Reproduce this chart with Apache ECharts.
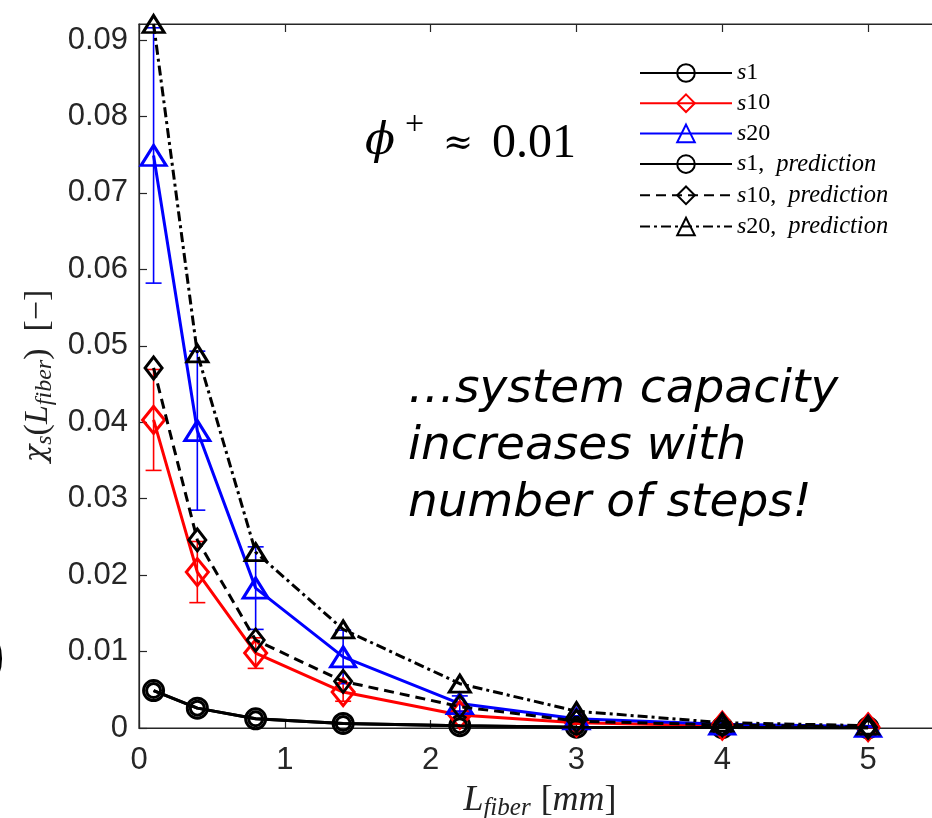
<!DOCTYPE html>
<html>
<head>
<meta charset="utf-8">
<script src="https://cdn.jsdelivr.net/npm/echarts@6/dist/echarts.min.js"></script>
<style>html,body{margin:0;padding:0;background:#fff;}#c{width:932px;height:818px;}</style>
</head>
<body>
<div id="c"></div>
<script>
// ---- data ----
var xs = [0.1, 0.4, 0.8, 1.4, 2.2, 3, 4, 5];
var s1 = [0.0049, 0.0026, 0.0012, 0.0006, 0.0003, 0.0001, 0.00005, 0.00002];
var s10 = [0.0403, 0.0204, 0.0098, 0.0047, 0.0017, 0.0007, 0.0003, 0.0001];
var s20 = [0.0749, 0.0389, 0.0183, 0.0093, 0.0032, 0.0012, 0.0005, 0.0002];
var s1Pred = [0.0049, 0.0026, 0.0012, 0.0006, 0.0003, 0.0001, 0.00005, 0.00002];
var s10Pred = [0.0471, 0.0246, 0.0115, 0.0061, 0.0028, 0.0009, 0.0004, 0.0001];
var s20Pred = [0.0921, 0.0490, 0.0230, 0.0129, 0.0058, 0.0022, 0.0007, 0.0003];
var s10Lo = [0.0337, 0.0164, 0.0078, 0.0035, 0.0012, 0.0005, 0.0002, 0.00005];
var s10Hi = [0.0469, 0.0244, 0.0118, 0.0059, 0.0022, 0.0009, 0.0004, 0.00015];
var s20Lo = [0.0582, 0.0285, 0.0129, 0.0058, 0.0022, 0.0008, 0.0003, 0.0001];
var s20Hi = [0.0916, 0.0493, 0.0237, 0.0128, 0.0042, 0.0016, 0.0007, 0.0003];
var xTicks = [0, 1, 2, 3, 4, 5];
var yTicks = [0, 0.01, 0.02, 0.03, 0.04, 0.05, 0.06, 0.07, 0.08, 0.09];

function pairs(ys) { return xs.map(function (x, i) { return [x, ys[i]]; }); }
function errData(lo, hi) { return xs.map(function (x, i) { return [x, lo[i], hi[i]]; }); }

var axisColor = '#262626';
var chart = echarts.init(document.getElementById('c'), null, { renderer: 'canvas' });

function errSeries(lo, hi, color) {
  return {
    type: 'custom',
    name: 'err',
    data: errData(lo, hi),
    encode: { x: 0, y: [1, 2] },
    z: 1,
    clip: false,
    renderItem: function (params, api) {
      var x = api.value(0);
      var p1 = api.coord([x, api.value(1)]);
      var p2 = api.coord([x, api.value(2)]);
      var cw = 8;
      var st = { stroke: color, lineWidth: 1.6 };
      return {
        type: 'group',
        children: [
          { type: 'line', shape: { x1: p1[0], y1: p1[1], x2: p2[0], y2: p2[1] }, style: st },
          { type: 'line', shape: { x1: p1[0] - cw, y1: p1[1], x2: p1[0] + cw, y2: p1[1] }, style: st },
          { type: 'line', shape: { x1: p2[0] - cw, y1: p2[1], x2: p2[0] + cw, y2: p2[1] }, style: st }
        ]
      };
    }
  };
}

function lineSeries(name, ys, color, symbol, size, dash, z, w) {
  return {
    type: 'line',
    name: name,
    data: pairs(ys),
    symbol: symbol,
    symbolSize: size,
    showAllSymbol: true,
    clip: false,
    z: z,
    lineStyle: { color: color, width: w, type: dash },
    itemStyle: { color: 'rgba(255,255,255,0)', borderColor: color, borderWidth: w },
    emphasis: { disabled: true },
    animation: false
  };
}

var legendNames = {
  's1': '{i|s}{n|1}',
  's10': '{i|s}{n|10}',
  's20': '{i|s}{n|20}',
  's1, prediction': '{i|s}{n|1,  }{p|prediction}',
  's10, prediction': '{i|s}{n|10,  }{p|prediction}',
  's20, prediction': '{i|s}{n|20,  }{p|prediction}'
};

var labFont = 'Liberation Serif';
var option = {
  animation: false,
  backgroundColor: '#fff',
  grid: { left: 139, top: 24, right: -9, bottom: 90, outerBoundsMode: 'none', containLabel: false, show: true, borderColor: axisColor, borderWidth: 1.2, backgroundColor: 'transparent' },
  legend: {
    data: ['s1', 's10', 's20', 's1, prediction', 's10, prediction', 's20, prediction'],
    orient: 'vertical',
    left: 639,
    top: 61,
    padding: 0,
    itemWidth: 92,
    itemHeight: 22,
    itemGap: 6.2,
    selectedMode: false,
    formatter: function (n) { return legendNames[n]; },
    textStyle: {
      color: '#000',
      rich: {
        i: { fontFamily: labFont, fontStyle: 'italic', fontSize: 24, color: '#000', lineHeight: 22 },
        n: { fontFamily: labFont, fontSize: 24, color: '#000', lineHeight: 22 },
        p: { fontFamily: labFont, fontStyle: 'italic', fontSize: 24.5, color: '#000', lineHeight: 22 }
      }
    }
  },
  xAxis: [{
    type: 'value',
    min: 0, max: 5.5, interval: 1,
    position: 'bottom',
    name: '{it|L}{sub|fiber}   {n|[}{it|mm}{n|]}',
    nameLocation: 'middle',
    nameGap: 53,
    nameTextStyle: {
      rich: {
        it: { fontFamily: labFont, fontStyle: 'italic', fontSize: 36, color: '#222', lineHeight: 40, verticalAlign: 'middle' },
        n: { fontFamily: labFont, fontSize: 36, color: '#222', lineHeight: 40, verticalAlign: 'middle' },
        sub: { fontFamily: labFont, fontStyle: 'italic', fontSize: 25, color: '#222', lineHeight: 40, verticalAlign: 'bottom' }
      }
    },
    axisLine: { show: true, onZero: false, lineStyle: { color: axisColor, width: 1.2 } },
    axisTick: { show: true, inside: true, length: 8, lineStyle: { color: axisColor, width: 1.2 } },
    axisLabel: { show: true, margin: 17, fontFamily: 'Liberation Sans', fontSize: 31, color: axisColor, showMaxLabel: false, showMinLabel: true },
    splitLine: { show: false }
  }, {
    type: 'value',
    min: 0, max: 5.5, interval: 1,
    position: 'top',
    axisLine: { show: true, onZero: false, lineStyle: { color: axisColor, width: 1.2 } },
    axisTick: { show: true, inside: true, length: 8, lineStyle: { color: axisColor, width: 1.2 } },
    axisLabel: { show: false },
    splitLine: { show: false }
  }],
  yAxis: {
    type: 'value',
    min: 0, max: 0.0921, interval: 0.01,
    name: '{c|χ}{sub|s}{n|(}{it|L}{sub|fiber}{n|)  [−]}',
    nameLocation: 'middle',
    nameRotate: 90,
    nameGap: 82,
    nameTextStyle: {
      rich: {
        c: { fontFamily: 'DejaVu Serif', fontStyle: 'italic', fontSize: 29, color: '#222', lineHeight: 38, verticalAlign: 'middle' },
        n: { fontFamily: labFont, fontSize: 34, color: '#222', lineHeight: 38, verticalAlign: 'middle' },
        it: { fontFamily: labFont, fontStyle: 'italic', fontSize: 34, color: '#222', lineHeight: 38, verticalAlign: 'middle' },
        sub: { fontFamily: labFont, fontStyle: 'italic', fontSize: 24, color: '#222', lineHeight: 38, verticalAlign: 'bottom' }
      }
    },
    axisLine: { show: true, onZero: false, lineStyle: { color: axisColor, width: 1.2 } },
    axisTick: { show: true, inside: true, length: 8, lineStyle: { color: axisColor, width: 1.2 } },
    axisLabel: {
      show: true, margin: 11, fontFamily: 'Liberation Sans', fontSize: 31, color: axisColor, showMaxLabel: false,
      formatter: function (v) { var r = Math.round(v * 100) / 100; return r === 0 ? '0' : r.toFixed(2); }
    },
    splitLine: { show: false }
  },
  graphic: [
    { type: 'text', x: 365, y: 121, z: 100, style: { text: 'ϕ', fontFamily: 'DejaVu Serif', fontStyle: 'italic', fontSize: 44, fill: '#000' } },
    { type: 'text', x: 405, y: 108, z: 100, style: { text: '+', fontFamily: 'Liberation Serif', fontSize: 34, fill: '#000' } },
    { type: 'text', x: 443, y: 127, z: 100, style: { text: '≈', fontFamily: 'DejaVu Serif', fontSize: 36, fill: '#000' } },
    { type: 'text', x: 492, y: 120, z: 100, style: { text: '0.01', fontFamily: 'Liberation Serif', fontSize: 48, fill: '#000' } },
    {
      type: 'text', x: 408, y: 361, z: 100,
      style: {
        text: '…system capacity\nincreases with\nnumber of steps!',
        fontFamily: 'DejaVu Sans', fontStyle: 'italic', fontSize: 47, lineHeight: 57, fill: '#000'
      }
    },
    {
      type: 'text', x: 6, y: 657, z: 100,
      style: { text: ')', fontFamily: 'Liberation Sans', fontSize: 62, fill: '#000', textAlign: 'right', textVerticalAlign: 'middle' }
    }
  ],
  series: [
    errSeries(s10Lo, s10Hi, '#ff0000'),
    errSeries(s20Lo, s20Hi, '#0000ff'),
    lineSeries('s1', s1, '#000000', 'circle', 20, 'solid', 3, 3),
    lineSeries('s10', s10, '#ff0000', 'diamond', [22, 27], 'solid', 3, 3),
    lineSeries('s20', s20, '#0000ff', 'triangle', [25, 20], 'solid', 3, 3),
    lineSeries('s1, prediction', s1Pred, '#000000', 'circle', 14, 'solid', 4, 3),
    lineSeries('s10, prediction', s10Pred, '#000000', 'diamond', [17, 22], [10, 6], 4, 3),
    lineSeries('s20, prediction', s20Pred, '#000000', 'triangle', [21, 17], [10, 4, 3, 4], 4, 3)
  ]
};
chart.setOption(option);
</script>
</body>
</html>
